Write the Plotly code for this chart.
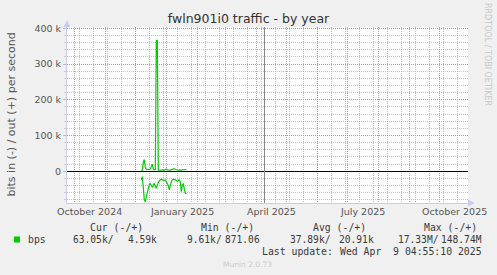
import plotly.graph_objects as go
import pandas as pd

# ---------------- data ----------------
start_day = "2024-12-07"
out_k = [2, 3, 25, 33, 12, 5, 5, 4, 5, 6, 12, 20, 6, 4, 5, 365, 367, 3, 3, 2,
         3, 4, 3, 3, 5, 6, 4, 3, 3, 3, 4, 5, 6, 7, 5, 4, 3, 3, 4, 3,
         3, 4, 4, 5, 5, 5]
in_k = [-24, -15, -45, -80, -85, -70, -58, -48, -38, -34, -40, -45, -38, -34, -42,
        -48, -38, -30, -27, -24, -22, -24, -25, -25, -24, -28, -34, -40, -52, -38,
        -28, -24, -22, -22, -24, -26, -28, -26, -24, -30, -57, -40, -34, -50, -62, -62]
y_tick_vals = [0, 100000, 200000, 300000, 400000]
y_tick_text = ["0", "100 k", "200 k", "300 k", "400 k"]
month_labels = ["October 2024", "January 2025", "April 2025", "July 2025", "October 2025"]
month_label_pos = ["2024-10-16 12:00", "2025-01-16 12:00", "2025-04-16", "2025-07-16 12:00", "2025-10-16 12:00"]
now_time = "2025-04-09 04:55:10"
legend_headers = ["Cur (-/+)", "Min (-/+)", "Avg (-/+)", "Max (-/+)"]
legend_in_vals = ["63.05k/", "9.61k/", "37.89k/", "17.33M/"]
legend_out_vals = ["4.59k", "871.06", "20.91k", "148.74M"]

dates = pd.date_range(start_day, periods=len(out_k), freq="D")
out_bps = [v * 1000 for v in out_k]
in_bps = [v * 1000 for v in in_k]

# ---------------- geometry ----------------
W, H = 497, 275
L, Rm, T, Bm = 67, 29, 27, 72
PW = W - L - Rm
PH = H - T - Bm
B = H - Bm

def px2x(px):
    return (px - L) / PW

def py2y(py):
    return (B - py) / PH

GREEN = "#00CC00"
MGRID = "rgba(225,120,120,0.8)"
GRID = "rgba(160,160,160,0.65)"
AXIS = "#C8CCF0"

fig = go.Figure()
fig.add_trace(go.Scatter(x=dates, y=out_bps, mode="lines",
                         line=dict(color=GREEN, width=1.2), hoverinfo="skip"))
fig.add_trace(go.Scatter(x=dates, y=in_bps, mode="lines",
                         line=dict(color=GREEN, width=1.2), hoverinfo="skip"))

month_starts = pd.date_range("2024-10-01", "2025-10-01", freq="MS")
biweekly = pd.date_range("2024-10-06", "2025-10-29", freq="14D")

fig.update_layout(
    width=W, height=H,
    margin=dict(l=L, r=Rm, t=T, b=Bm, pad=0),
    paper_bgcolor="#F0F0F0", plot_bgcolor="#FFFFFF",
    showlegend=False,
    title=dict(text="fwln901i0 traffic - by year", x=0.5, xanchor="center",
               y=1 - 19 / H, yanchor="middle",
               font=dict(family="DejaVu Sans", size=12.5, color="#333333")),
    xaxis=dict(type="date", range=["2024-09-23 16:48", "2025-10-29 16:48"],
               tickmode="array", tickvals=list(month_starts),
               ticktext=[""] * len(month_starts), showticklabels=False,
               showgrid=True, gridcolor=MGRID, griddash="1px,1px", gridwidth=1,
               ticks="", zeroline=False,
               showline=True, linecolor=AXIS, linewidth=1,
               minor=dict(tickmode="array", tickvals=list(biweekly), showgrid=True,
                          gridcolor=GRID, griddash="1px,1px", gridwidth=1, ticks="")),
    yaxis=dict(range=[-88700, 403600], tickmode="array", tickvals=y_tick_vals,
               ticktext=y_tick_text, showgrid=True, gridcolor=MGRID,
               griddash="1px,1px", gridwidth=1,
               ticks="outside", ticklen=3, tickcolor="#BBBBBB",
               tickfont=dict(family="DejaVu Sans", size=9.5, color="#555555"),
               zeroline=True, zerolinecolor="#000000", zerolinewidth=1,
               showline=True, linecolor=AXIS, linewidth=1,
               minor=dict(tick0=0, dtick=20000, showgrid=True, gridcolor=GRID,
                          griddash="1px,1px", gridwidth=1, ticks="outside",
                          ticklen=2, tickcolor="#CCCCCC")),
)

shapes = []
# "now" line
shapes.append(dict(type="line", xref="x", yref="paper", x0=now_time, x1=now_time,
                   y0=0, y1=1, line=dict(color="#888888", width=1)))
# axis arrows
shapes.append(dict(type="path", xref="paper", yref="paper",
                   path=f"M {px2x(63.5)} {py2y(27)} L {px2x(70.5)} {py2y(27)} L {px2x(67)} {py2y(20)} Z",
                   fillcolor=AXIS, line=dict(width=0)))
shapes.append(dict(type="path", xref="paper", yref="paper",
                   path=f"M {px2x(468)} {py2y(199.5)} L {px2x(468)} {py2y(206.5)} L {px2x(475)} {py2y(203)} Z",
                   fillcolor=AXIS, line=dict(width=0)))
# legend swatch
shapes.append(dict(type="rect", xref="paper", yref="paper",
                   x0=px2x(14), x1=px2x(20), y0=py2y(242.5), y1=py2y(236.5),
                   fillcolor=GREEN, line=dict(width=0)))
fig.update_layout(shapes=shapes)

ann = []
def text(px, py, s, anchor="left", size=10, color="#3A3A3A", family="DejaVu Sans Mono", angle=0):
    ann.append(dict(xref="paper", yref="paper", x=px2x(px), y=py2y(py), text=s,
                    showarrow=False, xanchor=anchor, yanchor="middle", textangle=angle,
                    borderpad=0, font=dict(family=family, size=size, color=color)))

# month labels
for lab, pos in zip(month_labels, month_label_pos):
    ann.append(dict(xref="x", yref="paper", x=pos, y=py2y(212), text=lab,
                    showarrow=False, xanchor="center", yanchor="middle", borderpad=0,
                    font=dict(family="DejaVu Sans", size=9.5, color="#555555")))

# y-axis title
text(10.5, 115, "bits in (-) / out (+) per second", anchor="center", size=11,
     color="#555555", family="DejaVu Sans", angle=-90)
# rrdtool credit
text(488, 54, "RRDTOOL / TOBI OETIKER", anchor="center", size=8,
     color="#C8C8C8", family="DejaVu Sans", angle=90)

# legend table
header_x = [89, 200, 311.7, 422.7]
in_x = [72.3, 186, 289.3, 396.7]
out_x = [157.7, 260.7, 375, 482.7]
for hx, h in zip(header_x, legend_headers):
    text(hx, 227.7, h, size=9.8)
text(27, 239.5, "bps", size=9.8)
for ix, v in zip(in_x, legend_in_vals):
    text(ix, 239.5, v, size=9.6)
for ox, v in zip(out_x, legend_out_vals):
    text(ox, 239.5, v, anchor="right", size=9.6)
text(260.7, 251, "Last update:", size=9.8)
text(482.7, 251, "Wed Apr  9 04:55:10 2025", anchor="right", size=9.8)
text(247.7, 264.3, "Munin 2.0.73", anchor="center", size=7.5, color="#CCCCCC",
     family="DejaVu Sans")

fig.update_layout(annotations=ann)
fig.write_html("out.html")
